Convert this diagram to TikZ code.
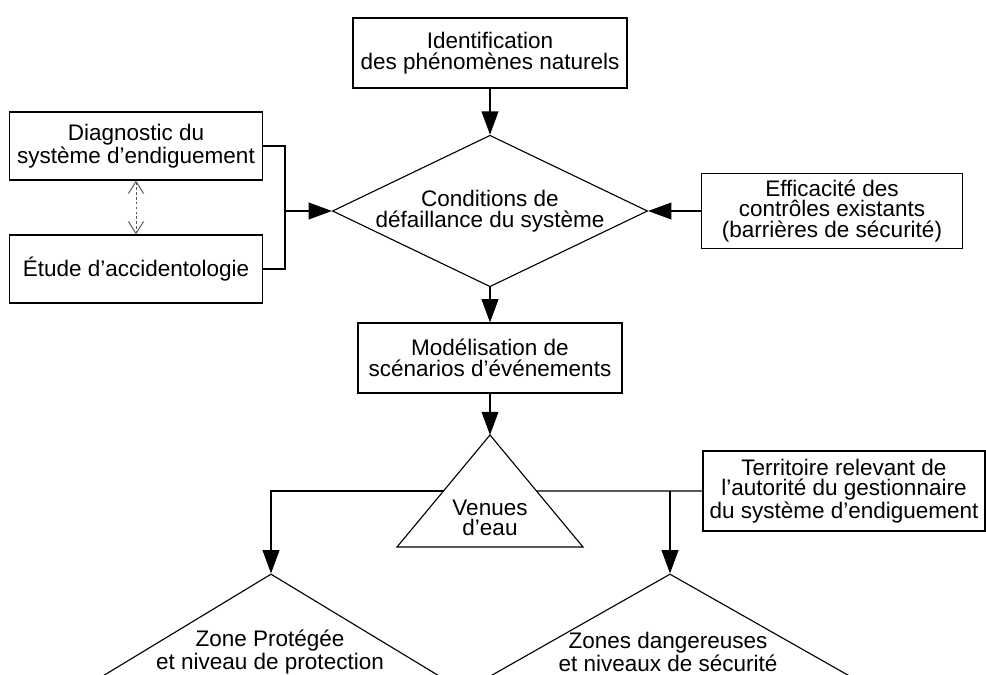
\documentclass[tikz,border=0pt]{standalone}
\usepackage{fontspec}
\setmainfont{Liberation Sans}
\usepackage{tikz}
\usetikzlibrary{arrows.meta,shapes.geometric,calc}

\tikzset{
	txt/.style={font=\fontsize{16pt}{14.6pt}\selectfont, align=center},
	box/.style={txt, draw, line width=0.8pt, inner sep=2pt},
	losange/.style={txt, draw, diamond, line width=0.8pt, inner sep=0pt},
	arr/.style={line width=0.8pt, -{Triangle[length=0.58cm,width=0.42cm]}},
	dblarr/.style={gray!70!black, line width=0.7pt, dash pattern=on 2pt off 1.5pt,
		{Straight Barb[length=0.3cm,width=0.38cm]}-{Straight Barb[length=0.3cm,width=0.38cm]}}
}

\begin{document}
\begin{tikzpicture}[x=0.025cm,y=-0.025cm]
		\useasboundingbox (0,0) rectangle (986,675);
		\clip (0,0) rectangle (986,675);
		
		\node[box, minimum width=6.85cm, minimum height=1.75cm] (ident) at (490,53) {Identification\\des phénomènes naturels};
		\node[losange, aspect=2.08, minimum width=7.35cm, minimum height=3.55cm] (cond) at (490,211) {Conditions de\\défaillance du système};
		\node[box, minimum width=6.325cm, minimum height=1.7cm] (diag) at (136,146) {Diagnostic du\\système d'endiguement};
		\node[box, minimum width=6.325cm, minimum height=1.7cm] (etude) at (136,269) {Étude d'accidentologie};
		\node[box, minimum width=6.525cm, minimum height=1.875cm] (effic) at (832,211) {Efficacité des\\contrôles existants\\(barrières de sécurité)};
		\node[box, minimum width=6.6cm, minimum height=1.75cm] (model) at (490,358) {Modélisation de\\scénarios d'événements};
		\node[box, minimum width=7.05cm, minimum height=2cm] (terr) at (844,491) {Territoire relevant de\\l'autorité du gestionnaire\\du système d'endiguement};
		
		% triangle des venues d'eau
		\coordinate (venA) at (490,435);
		\coordinate (venL) at (397,547);
		\coordinate (venR) at (583,547);
		\draw[line width=0.8pt] (venA) -- (venL) -- (venR) -- cycle;
		\node[txt] (venues) at (490,518) {Venues\\d'eau};
		
		% losanges du bas
		\node[losange, aspect=1.7, minimum width=10.4cm, minimum height=6.3cm] (zp) at (271,700) {};
		\node[losange, aspect=1.78, minimum width=11.1cm, minimum height=6.3cm] (zd) at (670,700) {};
		\node[txt] (zptxt) at (270,652) {Zone Protégée\\et niveau de protection};
		\node[txt] (zdtxt) at (668,652) {Zones dangereuses\\et niveaux de sécurité};
		
		\coordinate (brk) at (285,211);
		
		\draw[arr] (ident.south) -- (cond.north);
		\draw[line width=0.8pt] (diag.east) -| (brk) |- (etude.east);
		\draw[arr] (brk) -- (cond.west);
		\draw[arr] (effic.west) -- (cond.east);
		\draw[dblarr] (diag.south) -- (etude.north);
		\draw[arr] (cond.south) -- (model.north);
		\draw[arr] (model.south) -- (venA);
		\draw[arr] ($(venA)!.5!(venL)$) -| (zp.north);
		\draw[line width=0.8pt] ($(venA)!.5!(venR)$) -- (terr.west);
		\draw[arr] (zd.north |- terr.west) -- (zd.north);
		
\end{tikzpicture}
\end{document}
